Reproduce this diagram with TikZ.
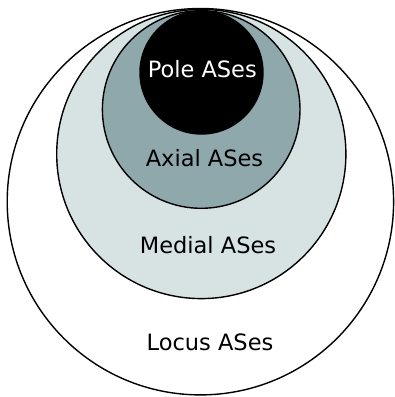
\documentclass[tikz,border=0pt]{standalone}
\usepackage{fontspec}
\setmainfont{DejaVu Sans}
\definecolor{medialc}{HTML}{D7E3E3}
\definecolor{axialc}{HTML}{8FA8AC}
\begin{document}
\begin{tikzpicture}[x=1pt,y=-1pt,
  ring/.style={draw=black,line width=1.4pt},
  lbl/.style={anchor=base,inner sep=0pt,font=\fontsize{22.5}{25}\selectfont}]
\useasboundingbox (0,0) rectangle (395,397);
\fill[white] (0,0) rectangle (395,397);
\draw[ring,fill=white] (200.4,201.7) circle[radius=193.2];
\draw[ring,fill=medialc] (201.3,154) circle[radius=144.6];
\draw[ring,fill=axialc] (201.2,109.5) circle[radius=98.8];
\draw[ring,fill=black] (201.5,72.5) circle[radius=61.5];
\node[lbl,text=white] (pole) at (202.3,77.7) {Pole ASes};
\node[lbl] (axial) at (204.5,166.7) {Axial ASes};
\node[lbl] (medial) at (208,253.3) {Medial ASes};
\node[lbl] (locus) at (210,350.7) {Locus ASes};
\end{tikzpicture}
\end{document}
